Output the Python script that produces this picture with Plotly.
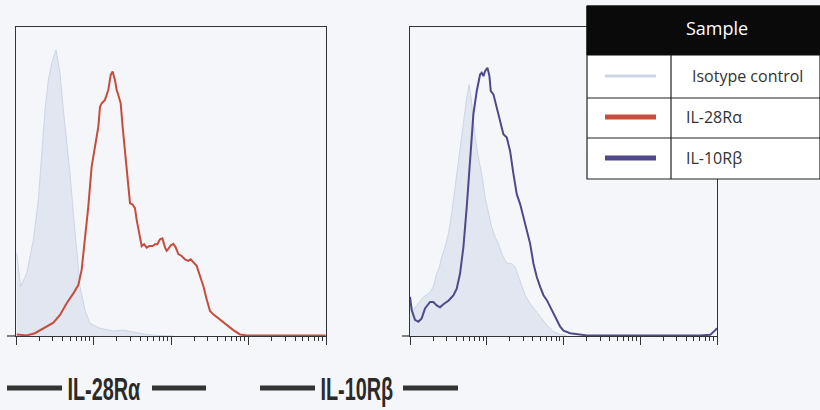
import numpy as np
import plotly.graph_objects as go
from plotly.subplots import make_subplots

# fluorescence intensity in log10 units, counts as % of panel height
iso_a_log = [0.009, 0.06, 0.138, 0.224, 0.288, 0.331, 0.374, 0.417, 0.46, 0.516, 0.568, 0.611,
             0.654, 0.697, 0.74, 0.783, 0.826, 0.89, 0.955, 1.084, 1.256, 1.385, 1.514, 1.686,
             1.815, 2.03]
iso_a_cnt = [26.8, 16.0, 20.3, 31.1, 44.0, 60.2, 73.1, 82.8, 88.2, 92.6, 85.0, 73.1,
             63.4, 52.6, 39.7, 26.8, 16.0, 8.4, 4.1, 2.5, 1.6, 1.9, 1.2, 0.5,
             0.2, 0.0]

il28_log = [0.009, 0.138, 0.245, 0.31, 0.396, 0.482, 0.568, 0.654, 0.74, 0.804, 0.847, 0.89,
            0.933, 0.976, 1.019, 1.062, 1.084, 1.105, 1.148, 1.191, 1.222, 1.247, 1.277, 1.299,
            1.32, 1.351, 1.376, 1.406, 1.437, 1.471, 1.505, 1.535, 1.557, 1.591, 1.622, 1.652,
            1.686, 1.72, 1.763, 1.794, 1.824, 1.858, 1.888, 1.923, 1.944, 1.966, 1.996, 2.03,
            2.06, 2.095, 2.138, 2.181, 2.224, 2.254, 2.288, 2.331, 2.374, 2.417, 2.46, 2.503,
            2.546, 2.632, 2.718, 2.804, 2.89, 2.976, 3.996]
il28_cnt = [0.5, 0.2, 0.9, 1.9, 3.2, 4.3, 6.8, 10.6, 13.8, 16.5, 21.4, 31.1,
            41.9, 54.8, 61.3, 67.7, 74.2, 75.3, 76.4, 79.6, 84.5, 85.6, 82.8, 79.6,
            78.0, 75.3, 67.7, 59.1, 51.6, 43.0, 42.5, 41.4, 37.6, 33.3, 29.1, 29.7,
            28.6, 29.1, 29.1, 29.7, 29.7, 31.3, 31.6, 28.7, 27.6, 28.2, 29.3, 29.8,
            28.7, 26.5, 25.9, 24.8, 24.3, 24.8, 23.7, 22.7, 19.4, 16.2, 11.9, 8.1,
            7.0, 5.2, 3.6, 1.9, 0.5, 0.2, 0.2]

iso_b_log = [0.0, 0.043, 0.087, 0.174, 0.261, 0.304, 0.348, 0.383, 0.413, 0.457, 0.5, 0.543,
             0.587, 0.63, 0.674, 0.717, 0.739, 0.77, 0.796, 0.826, 0.861, 0.891, 0.913, 0.935,
             0.978, 1.022, 1.065, 1.109, 1.152, 1.196, 1.239, 1.283, 1.326, 1.37, 1.413, 1.457,
             1.5, 1.565, 1.63, 1.696, 1.783, 1.87, 1.957, 2.043]
iso_b_cnt = [11.6, 8.2, 9.9, 12.6, 14.2, 15.9, 20.2, 22.3, 25.6, 28.8, 33.1, 39.5,
             48.1, 56.7, 65.3, 72.8, 77.1, 81.4, 77.1, 69.6, 62.1, 57.8, 55.6, 52.4,
             44.9, 39.5, 35.2, 32.0, 29.9, 26.6, 24.5, 23.4, 23.4, 22.3, 19.1, 15.9,
             13.2, 10.5, 8.4, 6.2, 3.5, 1.4, 0.5, 0.2]

il10_log = [0.0, 0.022, 0.065, 0.109, 0.152, 0.196, 0.261, 0.304, 0.348, 0.391, 0.435, 0.5,
            0.565, 0.609, 0.652, 0.696, 0.739, 0.783, 0.826, 0.87, 0.913, 0.935, 0.957, 0.978,
            1.009, 1.035, 1.052, 1.087, 1.13, 1.174, 1.217, 1.261, 1.304, 1.348, 1.391, 1.435,
            1.478, 1.522, 1.565, 1.609, 1.652, 1.696, 1.739, 1.783, 1.826, 1.87, 1.913, 1.957,
            2.0, 2.087, 2.217, 2.304, 3.783, 3.913, 3.978, 4.0]
il10_cnt = [12.7, 8.4, 5.2, 4.6, 5.7, 8.9, 11.0, 11.0, 9.9, 9.3, 10.3, 11.4,
            13.1, 15.3, 20.2, 28.8, 41.7, 57.8, 71.8, 79.3, 84.6, 85.2, 84.1, 85.7,
            86.8, 84.1, 79.3, 78.2, 73.9, 69.6, 65.3, 64.2, 59.9, 52.4, 45.9, 42.7,
            38.4, 34.1, 29.9, 23.4, 19.1, 15.9, 13.2, 11.6, 9.5, 7.8, 5.2, 3.0,
            1.7, 0.9, 0.4, 0.2, 0.2, 0.4, 1.9, 2.5]

panel_titles = ["IL-28Rα", "IL-10Rβ"]
legend_names = ["Isotype control", "IL-28Rα", "IL-10Rβ"]

BG = "#f5f6fa"
ISO_FILL = "#e1e6f0"
ISO_LINE = "#cdd5e4"
RED = "#c64c3c"
BLUE = "#4e4989"

fig = make_subplots(rows=1, cols=2)

fig.add_trace(go.Scatter(x=10 ** np.array(iso_a_log), y=iso_a_cnt, fill="tozeroy",
                         fillcolor=ISO_FILL, line=dict(color=ISO_LINE, width=1)), 1, 1)
fig.add_trace(go.Scatter(x=10 ** np.array(il28_log), y=il28_cnt,
                         line=dict(color=RED, width=2)), 1, 1)
fig.add_trace(go.Scatter(x=10 ** np.array(iso_b_log), y=iso_b_cnt, fill="tozeroy",
                         fillcolor=ISO_FILL, line=dict(color=ISO_LINE, width=1)), 1, 2)
fig.add_trace(go.Scatter(x=10 ** np.array(il10_log), y=il10_cnt,
                         line=dict(color=BLUE, width=2)), 1, 2)

xax = dict(type="log", range=[0, 4], dtick=1, showticklabels=False, showgrid=False,
           zeroline=False, showline=True, linecolor="#333", linewidth=1.2, mirror=True,
           ticks="outside", ticklen=8, tickcolor="#333",
           minor=dict(ticks="outside", ticklen=4, tickcolor="#333", dtick="D1"))
yax = dict(range=[0, 100], showticklabels=False, showgrid=False, zeroline=False,
           showline=True, linecolor="#333", linewidth=1.2, mirror=True, ticks="")

fig.update_layout(
    width=820, height=410, showlegend=False, hovermode=False,
    margin=dict(l=0, r=0, t=0, b=0),
    paper_bgcolor=BG, plot_bgcolor=BG,
    xaxis=dict(domain=[16 / 820, 326 / 820], **xax),
    xaxis2=dict(domain=[410 / 820, 717 / 820], **xax),
    yaxis=dict(domain=[74 / 410, 383 / 410], **yax),
    yaxis2=dict(domain=[74 / 410, 383 / 410], **yax),
)

def px(x):
    return x / 820

def py(y):
    return 1 - y / 410

shapes = []
# axis extensions on the left of each panel
for x0, x1 in [(7, 16), (402, 410)]:
    shapes.append(dict(type="line", xref="paper", yref="paper", x0=px(x0), x1=px(x1),
                       y0=py(336), y1=py(336), line=dict(color="#333", width=1.2)))

# panel labels with bars
title_font = dict(family="Liberation Sans, Arial, sans-serif", size=31, color="#2a2a2a")
for cx, (b0, b1), (b2, b3), t in [(104, (7, 62), (152, 206), panel_titles[0]),
                                  (357, (260, 315), (403, 458), panel_titles[1])]:
    for a, b in [(b0, b1), (b2, b3)]:
        shapes.append(dict(type="line", xref="paper", yref="paper", x0=px(a), x1=px(b),
                           y0=py(388), y1=py(388), line=dict(color="#333", width=5)))
    fig.add_annotation(x=px(cx), y=py(389), xref="paper", yref="paper", text="<b>%s</b>" % t,
                       showarrow=False, font=title_font, xanchor="center", yanchor="middle")

# legend table
shapes.append(dict(type="rect", xref="paper", yref="paper", x0=px(587), x1=px(820),
                   y0=py(179), y1=py(6), fillcolor="white", line=dict(color="#222", width=1.2)))
shapes.append(dict(type="rect", xref="paper", yref="paper", x0=px(587), x1=px(820),
                   y0=py(55), y1=py(6), fillcolor="#0a0a0a", line=dict(color="#0a0a0a", width=1)))
for yy in [98, 138]:
    shapes.append(dict(type="line", xref="paper", yref="paper", x0=px(587), x1=px(820),
                       y0=py(yy), y1=py(yy), line=dict(color="#222", width=1.2)))
shapes.append(dict(type="line", xref="paper", yref="paper", x0=px(671), x1=px(671),
                   y0=py(55), y1=py(179), line=dict(color="#222", width=1.2)))

row_y = [76, 117, 158]
swatch = [(ISO_LINE, 3), (RED, 5), (BLUE, 5)]
for yy, (c, w) in zip(row_y, swatch):
    shapes.append(dict(type="line", xref="paper", yref="paper", x0=px(605), x1=px(656),
                       y0=py(yy), y1=py(yy), line=dict(color=c, width=w)))

fig.update_layout(shapes=shapes)

cell_font = dict(family="Open Sans, sans-serif", size=16, color="#333")
fig.add_annotation(x=px(717), y=py(28), xref="paper", yref="paper", text="Sample",
                   showarrow=False, xanchor="center", yanchor="middle",
                   font=dict(family="Open Sans, sans-serif", size=18, color="white"))
fig.add_annotation(x=px(747), y=py(row_y[0]), xref="paper", yref="paper", text=legend_names[0],
                   showarrow=False, font=cell_font, xanchor="center", yanchor="middle")
for yy, name in zip(row_y[1:], legend_names[1:]):
    fig.add_annotation(x=px(684), y=py(yy), xref="paper", yref="paper", text=name,
                       showarrow=False, font=cell_font, xanchor="left", yanchor="middle")

# no page margin; narrow the bold panel labels like the condensed face in the original
post = """
document.body.style.margin = '0';
document.querySelectorAll('.annotation-text').forEach(function (el) {
  if (el.style.fontSize === '31px') {
    el.style.transformBox = 'fill-box';
    el.style.transformOrigin = 'center';
    el.style.transform = 'scaleX(0.64)';
  }
});
"""

fig.write_html("out.html", post_script=post, config={"displayModeBar": False})
